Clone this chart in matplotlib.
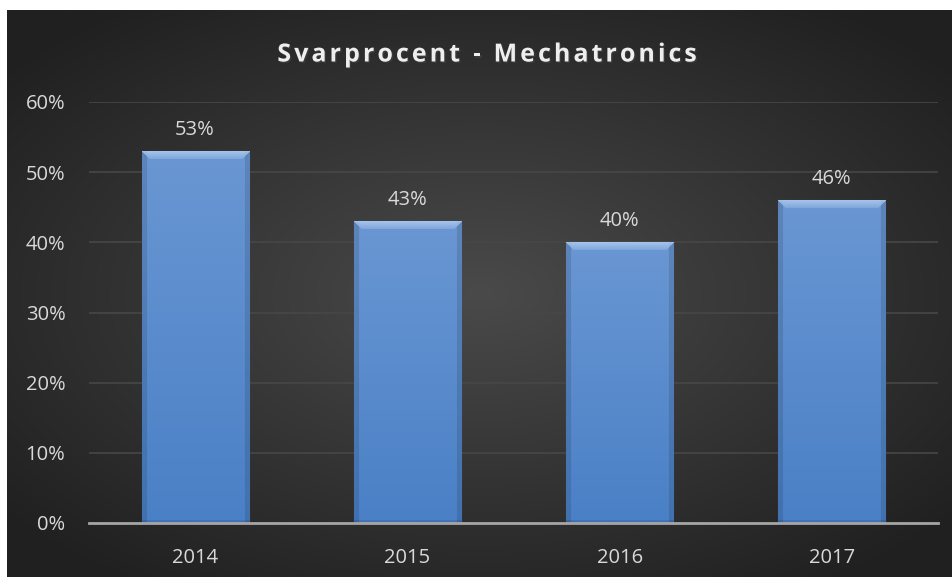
#!/usr/bin/env python3
# -*- coding: utf-8 -*-
"""Svarprocent - Mechatronics: kolonnediagram med mørk baggrund"""

import numpy as np
import matplotlib
matplotlib.use('Agg')
import matplotlib.pyplot as plt
import matplotlib.patheffects as pe
from matplotlib.ticker import FuncFormatter

# data
years = ['2014', '2015', '2016', '2017']
svarprocent = [0.53, 0.43, 0.40, 0.46]
y_ticks = [0.0, 0.1, 0.2, 0.3, 0.4, 0.5, 0.6]
title = 'Svarprocent - Mechatronics'

W, H = 953, 580
plt.rcParams['font.family'] = ['Open Sans', 'DejaVu Sans']

fig = plt.figure(figsize=(W / 100, H / 100), dpi=100)
fig.patch.set_facecolor('white')

# mørkt panel med radial gradient (lysere i midten)
bg = fig.add_axes([7 / W, 3 / H, 946 / W, 567 / H])
yy, xx = np.mgrid[-1:1:300j, -1:1:500j]
r = np.sqrt((xx * 0.95) ** 2 + (yy * 1.0) ** 2)
r = np.clip(r / 1.25, 0, 1)
c_in = np.array([0x4a, 0x4a, 0x4a]) / 255
c_out = np.array([0x20, 0x20, 0x20]) / 255
img = c_in[None, None, :] * (1 - r[..., None]) + c_out[None, None, :] * r[..., None]
bg.imshow(img, aspect='auto', extent=[0, 1, 0, 1], interpolation='bilinear')
bg.set_axis_off()

ax = fig.add_axes([89 / W, 57 / H, 849 / W, (523 - 102) / H])
ax.set_facecolor('none')
x = np.arange(len(years))
width = 0.505
ax.set_xlim(-0.5, len(years) - 0.5)
ax.set_ylim(0, 0.6)

# gitterlinjer
for t in y_ticks[1:]:
    ax.axhline(t, color='#474747', lw=1.2, zorder=0)


def bar_image(h_px, w_px):
    """RGB-billede for en søjle med lodret gradient og facetterede kanter"""
    v = np.linspace(0, 1, h_px)[:, None]           # 0 top, 1 bund
    top = np.array([0x6a, 0x97, 0xd3]) / 255
    bot = np.array([0x4a, 0x80, 0xc6]) / 255
    im = top * (1 - v[..., None]) + bot * v[..., None]
    im = np.repeat(im, w_px, axis=1)
    bev_side, bev_top = 5, 8
    cols = np.arange(w_px)
    rows = np.arange(h_px)
    side = (cols < bev_side) | (cols >= w_px - bev_side)
    im[:, side] *= 0.88
    dist = np.minimum(cols, w_px - 1 - cols)[None, :]
    topband = (rows[:, None] < bev_top) & (rows[:, None] <= dist)
    light = np.array([0.72, 0.82, 0.95])
    frac = (1 - rows[:, None] / bev_top)[..., None] * 0.5 + 0.25
    im = np.where(topband[..., None], im * (1 - frac) + light * frac, im)
    im[-3:, :] *= 0.9
    return np.clip(im, 0, 1)


px_per_unit_y = (523 - 102) / 0.6
px_per_unit_x = 849 / len(years)
for xi, val in zip(x, svarprocent):
    bars = ax.bar(xi, val, width, color='#5b8bcb', edgecolor='#3e6aa8', lw=0.8, zorder=2)
    h_px = max(int(val * px_per_unit_y), 2)
    w_px = int(width * px_per_unit_x)
    im = ax.imshow(bar_image(h_px, w_px), extent=[xi - width / 2, xi + width / 2, 0, val],
                   aspect='auto', zorder=3, interpolation='bilinear')
    im.set_clip_path(bars.patches[0])
    ax.text(xi, val + 0.016, f'{int(round(val * 100))}%', ha='center', va='bottom',
            color='#d9d9d9', fontsize=14.5, zorder=4)

ax.set_xlim(-0.5, len(years) - 0.5)
ax.set_ylim(0, 0.6)
ax.set_xticks(x)
ax.set_xticklabels(years)
ax.set_yticks(y_ticks)
ax.yaxis.set_major_formatter(FuncFormatter(lambda v, _: f'{int(round(v * 100))}%'))
ax.tick_params(axis='both', length=0, colors='#d9d9d9', labelsize=14.5)
ax.tick_params(axis='x', pad=18)
ax.tick_params(axis='y', pad=17)
for s in ['top', 'right', 'left']:
    ax.spines[s].set_visible(False)
ax.spines['bottom'].set_color('#a6a6a6')
ax.spines['bottom'].set_linewidth(2)
ax.spines['bottom'].set_zorder(5)

# titel med ekstra bogstavafstand, tegnet tegn for tegn
renderer = fig.canvas.get_renderer()
spacing = 3.0
title_kw = dict(color='#eeeeee', fontsize=18, fontweight='bold', va='center', ha='left',
                path_effects=[pe.withSimplePatchShadow(offset=(1, -1), alpha=0.5)])
widths = []
for ch in title:
    t = fig.text(0, 0, ch if ch != ' ' else 'i', **title_kw)
    bb = t.get_window_extent(renderer)
    widths.append(bb.width * (0.9 if ch == ' ' else 1.0))
    t.remove()
total = sum(widths) + spacing * (len(title) - 1)
xpos = 487 - total / 2
for ch, w in zip(title, widths):
    if ch != ' ':
        fig.text(xpos / W, 1 - 55 / H, ch, **title_kw)
    xpos += w + spacing

fig.savefig('out.png', dpi=100)
